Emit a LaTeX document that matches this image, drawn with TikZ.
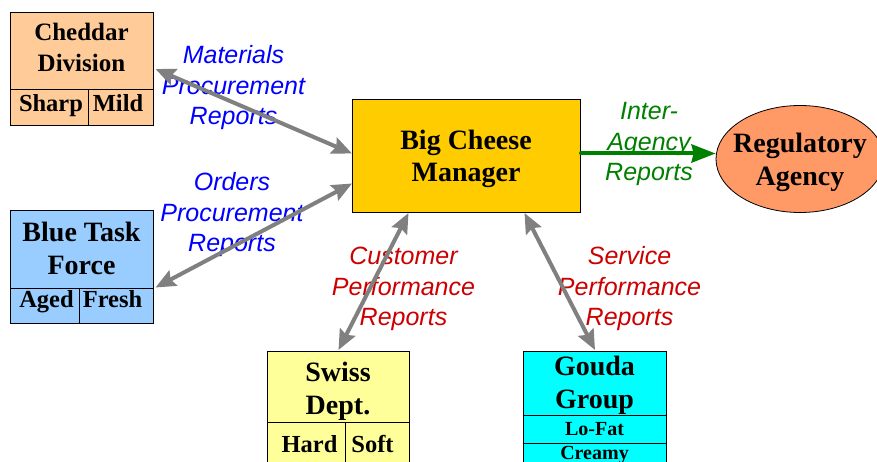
\documentclass[tikz,border=0pt]{standalone}
\usepackage{fontspec}
\setmainfont{Liberation Serif}
\newfontfamily\labfont{Liberation Sans}
\usetikzlibrary{arrows.meta,shapes.geometric,calc}
\definecolor{cheddarfill}{HTML}{FFCC99}
\definecolor{bluefill}{HTML}{99CCFF}
\definecolor{bigfill}{HTML}{FFCC00}
\definecolor{regfill}{HTML}{FF9966}
\definecolor{swissfill}{HTML}{FFFF99}
\definecolor{goudafill}{HTML}{00FFFF}
\definecolor{linkgray}{HTML}{808080}
\definecolor{labblue}{HTML}{0000FF}
\definecolor{labgreen}{HTML}{008000}
\definecolor{labred}{HTML}{CC0000}
\begin{document}
\begin{tikzpicture}[x=1pt,y=-1pt,
  box/.style={draw=black, line width=1pt, inner sep=0pt, anchor=north west},
  ttl/.style={font=\bfseries\fontsize{28}{32.5}\selectfont, align=center, inner sep=0pt},
  sub/.style={font=\bfseries\fontsize{24.5}{29}\selectfont, inner sep=0pt, anchor=base},
  small/.style={font=\bfseries\fontsize{20}{24}\selectfont, inner sep=0pt, anchor=base},
  lab/.style={font=\labfont\itshape\fontsize{25}{30.5}\selectfont, align=center, inner sep=0pt},
  divider/.style={draw=black, line width=1pt},
  link/.style={draw=linkgray, line width=4pt, {Stealth[length=20pt,width=17pt,inset=3pt]}-{Stealth[length=20pt,width=17pt,inset=3pt]}},
  greenlink/.style={draw=labgreen, line width=4pt, line cap=round, -{Stealth[length=24pt,width=18pt,inset=2pt]}}
]
\clip (0,0) rectangle (877,462);
\fill[white] (0,0) rectangle (877,462);

% Cheddar Division
\node[box, fill=cheddarfill, minimum width=143pt, minimum height=113pt] (ched) at (10,12) {};
\draw[divider] (10,90) coordinate (chedl) -- (153,90) coordinate (chedr);
\draw[divider] (88,90) coordinate (chedv) -- (88,126) coordinate (chedvb);
\node[ttl, font=\bfseries\fontsize{25}{31}\selectfont] (chedt) at (81.5,47.5) {Cheddar\\Division};
\node[sub] (sharp) at (51,112) {Sharp};
\node[sub] (mild) at (118,112) {Mild};

% Blue Task Force
\node[box, fill=bluefill, minimum width=143pt, minimum height=113pt] (blue) at (10,210) {};
\draw[divider] (10,288) coordinate (bluel) -- (153,288) coordinate (bluer);
\draw[divider] (79,288) coordinate (bluev) -- (79,323) coordinate (bluevb);
\node[ttl] (bluet) at (81.5,248.5) {Blue Task\\Force};
\node[sub] (aged) at (46.5,307) {Aged};
\node[sub] (fresh) at (112.5,307) {Fresh};

% Big Cheese Manager
\node[box, fill=bigfill, minimum width=228pt, minimum height=113pt] (big) at (352,99) {};
\node[ttl] (bigt) at (466,159) {Big Cheese\\Manager};

% Regulatory Agency
\node[ellipse, draw=black, line width=0.8pt, fill=regfill, minimum width=168pt, minimum height=107pt, inner sep=0pt] (reg) at (800,159) {};
\node[ttl, font=\bfseries\fontsize{28}{33}\selectfont] (regt) at (800,162) {Regulatory\\Agency};

% Swiss Dept.
\node[box, fill=swissfill, minimum width=142pt, minimum height=130pt] (swiss) at (267,351) {};
\draw[divider] (267,422) coordinate (swissl) -- (409,422) coordinate (swissr);
\draw[divider] (345,422) coordinate (swissv) -- (345,470) coordinate (swissvb);
\node[ttl] (swisst) at (338,391.5) {Swiss\\Dept.};
\node[sub] (hard) at (309.5,452) {Hard};
\node[sub] (soft) at (372.5,452) {Soft};

% Gouda Group
\node[box, fill=goudafill, minimum width=143pt, minimum height=130pt] (gouda) at (523,351) {};
\draw[divider] (523,415) coordinate (goudal1) -- (666,415) coordinate (goudar1);
\draw[divider] (523,443) coordinate (goudal2) -- (666,443) coordinate (goudar2);
\node[ttl, font=\bfseries\fontsize{28}{33.5}\selectfont] (goudat) at (594.5,385.5) {Gouda\\Group};
\node[small] (lofat) at (594.5,435) {Lo-Fat};
\node[small] (creamy) at (594.5,459) {Creamy};

% Labels
\node[lab, text=labblue] (matl) at (233.5,88) {Materials\\Procurement\\Reports};
\node[lab, text=labblue] (ordl) at (232,215) {Orders\\Procurement\\Reports};
\node[lab, text=labred] (custl) at (403.5,289) {Customer\\Performance\\Reports};
\node[lab, text=labred] (servl) at (629.5,289) {Service\\Performance\\Reports};
\node[lab, text=labgreen] (interl) at (649,144) {Inter-\\Agency\\Reports};

% Connectors
\draw[link] ([xshift=1.5pt]ched.east) -- ([yshift=2.5pt]big.west);
\draw[link] ([xshift=1.5pt,yshift=-20.5pt]blue.east) -- ([yshift=-27.5pt]big.west);
\draw[link] ([yshift=1pt]swiss.north) -- ([xshift=-58pt]big.south);
\draw[link] ([yshift=1pt]gouda.north) -- ([xshift=58pt]big.south);
\draw[greenlink] ([yshift=2.5pt]big.east) -- ([yshift=2.5pt]big.east -| reg.west);
\end{tikzpicture}
\end{document}
